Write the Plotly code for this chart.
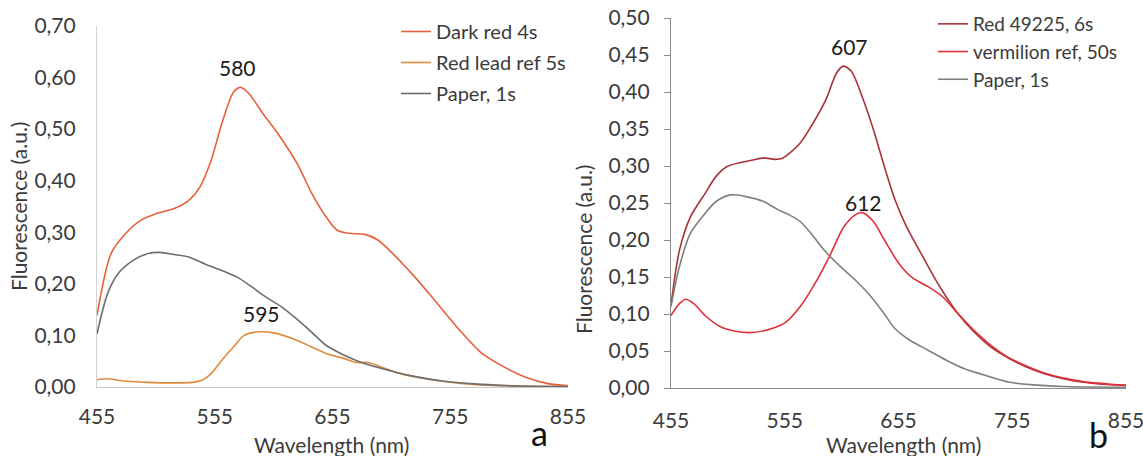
import plotly.graph_objects as go

# ---- data ----
# Panel a
a_dark_x = [455, 467, 479.5, 492, 505, 520.5, 533, 542.5, 552, 561, 571, 577, 584, 596, 609, 625, 637.5,
            649.5, 659, 669, 682.5, 693.5, 706, 725, 744, 763, 782, 800.5, 819, 838, 855]
a_dark_y = [0.139, 0.259, 0.298, 0.323, 0.336, 0.346, 0.362, 0.388, 0.44, 0.511, 0.572, 0.581, 0.569, 0.53,
            0.49, 0.433, 0.375, 0.33, 0.304, 0.298, 0.296, 0.285, 0.259, 0.213, 0.162, 0.11, 0.065, 0.039,
            0.019, 0.0065, 0.003]
a_lead_x = [455, 464, 476, 498, 520, 536, 544, 552, 561, 571, 580, 593, 605, 621, 637, 649.5, 665, 676, 684,
            700, 712, 734, 766, 797, 855]
a_lead_y = [0.014, 0.016, 0.012, 0.009, 0.008, 0.009, 0.013, 0.026, 0.052, 0.078, 0.100, 0.107, 0.105, 0.094,
            0.078, 0.065, 0.055, 0.047, 0.048, 0.036, 0.026, 0.016, 0.0065, 0.0026, 0.0013]
a_paper_x = [455, 464, 473, 486, 498.5, 508, 520.5, 533, 549, 561, 574, 586.5, 596, 612, 624, 637, 649.5, 662,
             674.6, 687, 703, 719, 750, 781.6, 813, 855]
a_paper_y = [0.103, 0.181, 0.22, 0.246, 0.259, 0.261, 0.257, 0.252, 0.236, 0.226, 0.213, 0.194, 0.178, 0.155,
             0.133, 0.107, 0.081, 0.065, 0.052, 0.042, 0.032, 0.023, 0.011, 0.005, 0.002, 0.0007]

# Panel b
b_red_x = [455, 462.4, 472, 485, 494.6, 504, 517, 527, 536.4, 546, 552.5, 559, 568.6, 578, 591, 600.6, 606.6,
           613.6, 623, 633, 642.6, 652, 662, 674.8, 687.7, 697, 707, 720, 736, 752, 768, 784, 800, 816, 835, 855]
b_red_y = [0.112, 0.186, 0.231, 0.263, 0.286, 0.299, 0.305, 0.308, 0.311, 0.309, 0.310, 0.317, 0.331, 0.353,
           0.389, 0.426, 0.435, 0.428, 0.394, 0.349, 0.299, 0.254, 0.218, 0.182, 0.146, 0.123, 0.101, 0.078,
           0.0555, 0.040, 0.028, 0.019, 0.0126, 0.008, 0.005, 0.0036]
b_verm_x = [455, 462.4, 468, 475, 485, 498, 510.7, 527, 543, 556, 568.6, 581.5, 594, 607, 617, 623, 633,
            642.6, 655.5, 668, 681, 694, 707, 720, 736, 752, 784, 816, 855]
b_verm_y = [0.098, 0.114, 0.12, 0.114, 0.098, 0.083, 0.077, 0.075, 0.080, 0.089, 0.110, 0.141, 0.177, 0.218,
            0.234, 0.237, 0.225, 0.20, 0.168, 0.148, 0.137, 0.123, 0.101, 0.080, 0.058, 0.041, 0.020, 0.009,
            0.0036]
b_paper_x = [455, 462.4, 472, 485, 494.6, 507.5, 520, 536.4, 549, 559, 568.6, 578, 591, 604, 617, 630, 642.6,
             652, 665, 681, 697, 713, 736, 752, 771, 800, 855]
b_paper_y = [0.11, 0.164, 0.209, 0.236, 0.252, 0.261, 0.259, 0.252, 0.241, 0.234, 0.225, 0.209, 0.184, 0.164,
             0.146, 0.125, 0.10, 0.080, 0.0645, 0.051, 0.0375, 0.026, 0.015, 0.008, 0.0045, 0.002, 0.001]

x_ticks = [455, 555, 655, 755, 855]
a_names = ["Dark red 4s", "Red lead ref 5s", "Paper, 1s"]
b_names = ["Red 49225, 6s", "vermilion ref, 50s", "Paper, 1s"]
peak_labels = ["580", "595", "607", "612"]

FONT = "Lato"
TXT = "#3b3b3b"
FS = 21

fig = go.Figure()

def add(x, y, name, color, xa, ya, leg, grp):
    fig.add_trace(go.Scatter(x=x, y=y, name=name, mode="lines",
                             line=dict(color=color, width=1.6, shape="spline", smoothing=0.8),
                             xaxis=xa, yaxis=ya, legend=leg, legendgroup=grp, hoverinfo="skip"))

add(a_dark_x, a_dark_y, a_names[0], "#E8603C", "x", "y", "legend", "a1")
add(a_lead_x, a_lead_y, a_names[1], "#DF8A3E", "x", "y", "legend", "a2")
add(a_paper_x, a_paper_y, a_names[2], "#6E6E6E", "x", "y", "legend", "a3")
add(b_red_x, b_red_y, b_names[0], "#A8323A", "x2", "y2", "legend2", "b1")
add(b_verm_x, b_verm_y, b_names[1], "#E0303A", "x2", "y2", "legend2", "b2")
add(b_paper_x, b_paper_y, b_names[2], "#7F7F7F", "x2", "y2", "legend2", "b3")

W, H = 1143, 456
tickfont = dict(family=FONT, size=FS, color=TXT)
CLEAR = "rgba(0,0,0,0)"

fig.update_layout(
    template="none",
    width=W, height=H, margin=dict(l=0, r=0, t=0, b=0, pad=0, autoexpand=False),
    paper_bgcolor="white", plot_bgcolor="white",
    separators=", ",
    font=dict(family=FONT, size=FS, color=TXT),
    xaxis=dict(domain=[97 / W, 568 / W], range=[455, 855], tickvals=x_ticks, showgrid=False,
               zeroline=False, showline=True, linecolor="#c8c8c8", linewidth=1.2,
               ticks="outside", ticklen=11, tickcolor=CLEAR,
               tickfont=tickfont, anchor="y", automargin=False, ticklabeloverflow="allow"),
    yaxis=dict(domain=[1 - 387 / H, 1 - 26 / H], range=[0, 0.70], dtick=0.1, tickformat=".2f",
               showgrid=False, zeroline=False, showline=True, linecolor="#d4d4d4", linewidth=1.2,
               ticks="", tickfont=tickfont, ticklabelstandoff=16, anchor="x", automargin=False,
               ticklabeloverflow="allow"),
    # data axis of panel b: labels pushed down by a transparent tick
    xaxis2=dict(domain=[671 / W, 1126 / W], range=[455, 855], tickvals=x_ticks, showgrid=False,
                zeroline=False, showline=True, linecolor="#8a8a8a", linewidth=1.2,
                ticks="outside", ticklen=14, tickcolor=CLEAR, tickfont=tickfont, anchor="y2",
                automargin=False, ticklabeloverflow="allow"),
    # visible short tick marks of panel b
    xaxis3=dict(overlaying="x2", anchor="y2", range=[455, 855], tickvals=x_ticks, showgrid=False,
                zeroline=False, showline=False, ticks="outside", ticklen=6, tickcolor="#8a8a8a",
                tickwidth=1.2, showticklabels=False, automargin=False),
    yaxis2=dict(domain=[1 - 388 / H, 1 - 18 / H], range=[0, 0.50], dtick=0.05, tickformat=".2f",
                showgrid=False, zeroline=False, showline=True, linecolor="#8a8a8a", linewidth=1.2,
                ticks="outside", ticklen=6, tickcolor="#8a8a8a", tickwidth=1.2, tickfont=tickfont,
                ticklabelstandoff=10, anchor="x2", automargin=False, ticklabeloverflow="allow"),
    legend=dict(x=396 / W, y=1 - 12 / H, xanchor="left", yanchor="top", bgcolor=CLEAR,
                font=dict(family=FONT, size=20, color=TXT), traceorder="grouped", tracegroupgap=2,
                itemwidth=30),
    legend2=dict(x=933 / W, y=1 - 5 / H, xanchor="left", yanchor="top", bgcolor=CLEAR,
                 font=dict(family=FONT, size=19, color=TXT), traceorder="grouped", tracegroupgap=0,
                 itemwidth=30),
    showlegend=True,
)

ann = [
    dict(x=574, y=0.62, xref="x", yref="y", text=peak_labels[0]),
    dict(x=594.3, y=0.1435, xref="x", yref="y", text=peak_labels[1]),
    dict(x=611.5, y=0.462, xref="x2", yref="y2", text=peak_labels[2]),
    dict(x=623.8, y=0.251, xref="x2", yref="y2", text=peak_labels[3]),
]
for a in ann:
    fig.add_annotation(**a, showarrow=False, xanchor="center", yanchor="middle",
                       font=dict(family=FONT, size=FS, color="#1a1a1a"))

for xp, yp in [(331, 444), (903, 444)]:
    fig.add_annotation(x=xp / W, y=1 - yp / H, xref="paper", yref="paper", text="Wavelength (nm)",
                       xanchor="center", yanchor="middle",
                       showarrow=False, font=dict(family=FONT, size=FS, color=TXT))
for xp, yp in [(18, 207), (583, 250)]:
    fig.add_annotation(x=xp / W, y=1 - yp / H, xref="paper", yref="paper", text="Fluorescence (a.u.)",
                       xanchor="center", yanchor="middle",
                       textangle=-90, showarrow=False, font=dict(family=FONT, size=FS, color=TXT))
for xp, yp, t in [(539, 432, "a"), (1098, 434, "b")]:
    fig.add_annotation(x=xp / W, y=1 - yp / H, xref="paper", yref="paper", text=t,
                       xanchor="center", yanchor="middle",
                       showarrow=False, font=dict(family=FONT, size=34, color="#111111"))

fig.write_html("out.html")
